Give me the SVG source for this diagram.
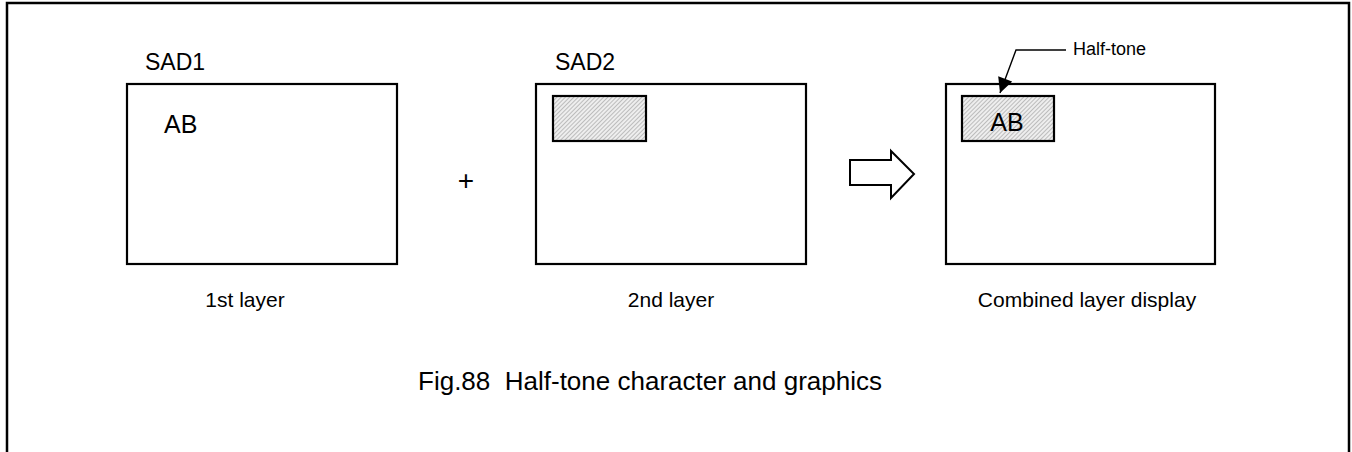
<svg xmlns="http://www.w3.org/2000/svg" width="1352" height="452" viewBox="0 0 1352 452">
<style>
.box{fill:#fff;stroke:#000;stroke-width:2.2}
.ht{fill:url(#hatch);stroke:#000;stroke-width:2.2}
.t{font-family:"Liberation Sans",Arial,sans-serif;fill:#000}
.big{font-size:23px}
.ab{font-size:25px}
.lab{font-size:21px}
.ln{fill:none;stroke:#000;stroke-width:1.4}
</style>
<defs>
<pattern id="hatch" patternUnits="userSpaceOnUse" width="3" height="3" patternTransform="rotate(45)">
<rect width="3" height="3" fill="#eeeeee"/>
<line x1="0" y1="0" x2="0" y2="3" stroke="#8a8a8a" stroke-width="1"/>
</pattern>
<marker id="ah" viewBox="0 0 10 10" refX="10" refY="5" markerWidth="16" markerHeight="15" markerUnits="userSpaceOnUse" orient="auto">
<path d="M0,0 L10,5 L0,10 z" fill="#000"/>
</marker>
</defs>
<rect x="7" y="3" width="1342" height="470" fill="#fff" stroke="#000" stroke-width="2.5"/>
<g id="layer1">
<text class="t big" x="145" y="70">SAD1</text>
<rect class="box" x="127" y="84" width="270" height="180"/>
<text class="t ab" x="164" y="133">AB</text>
<text class="t lab" x="245" y="307" text-anchor="middle">1st layer</text>
</g>
<g id="plus">
<text class="t" x="466" y="190" font-size="28" text-anchor="middle">+</text>
</g>
<g id="layer2">
<text class="t big" x="555" y="70">SAD2</text>
<rect class="box" x="536" y="84" width="270" height="180"/>
<rect class="ht" x="553" y="96" width="93" height="45"/>
<text class="t lab" x="671" y="307" text-anchor="middle">2nd layer</text>
</g>
<g id="bigarrow">
<path d="M850,160 L891,160 L891,151 L914,174 L891,198 L891,185 L850,185 Z" fill="#fff" stroke="#000" stroke-width="2"/>
</g>
<g id="layer3">
<rect class="box" x="946" y="84" width="269" height="180"/>
<rect class="ht" x="962" y="96" width="92" height="45"/>
<text class="t ab" x="1007" y="131" text-anchor="middle">AB</text>
<text class="t lab" x="1087" y="307" text-anchor="middle">Combined layer display</text>
</g>
<g id="halftone-label">
<text class="t" x="1073" y="55" font-size="18">Half-tone</text>
</g>
<g id="connectors">
<polyline class="ln" points="1066,50 1016,50 1000,93" marker-end="url(#ah)"/>
</g>
<g id="caption">
<text class="t" x="650" y="390" font-size="26" text-anchor="middle" xml:space="preserve">Fig.88  Half-tone character and graphics</text>
</g>
</svg>
